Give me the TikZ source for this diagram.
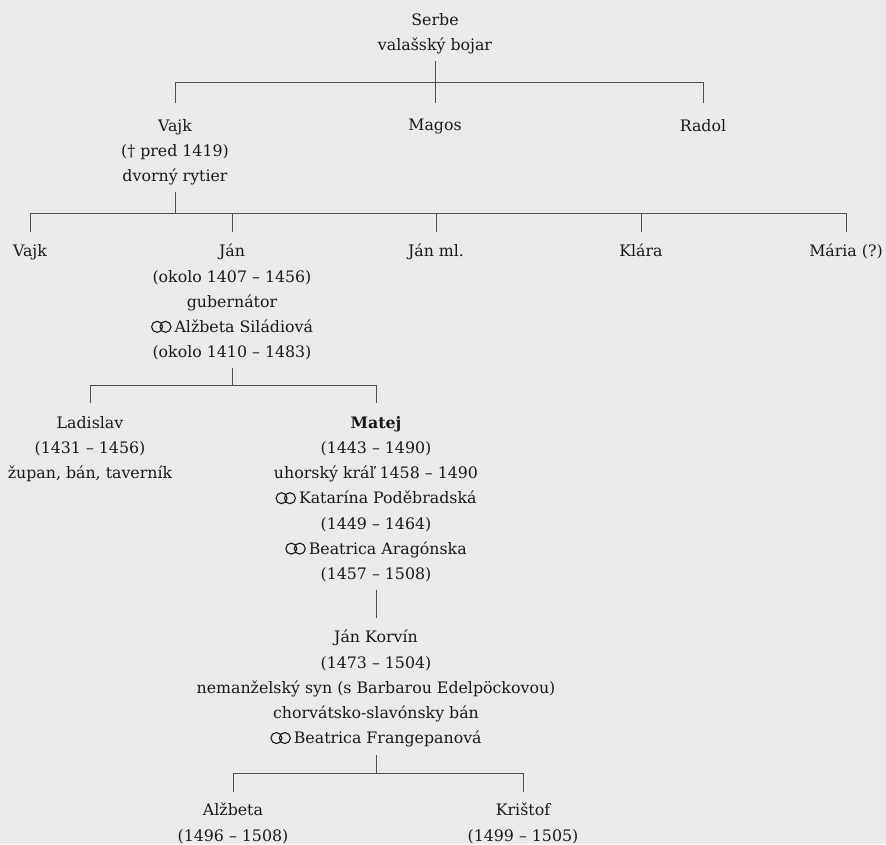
\documentclass[tikz,border=0pt]{standalone}
\usepackage{fontspec}
\setmainfont{DejaVu Serif}
\definecolor{bg}{RGB}{234,234,234}
\definecolor{ink}{RGB}{25,25,25}
\definecolor{ln}{RGB}{80,80,80}
\newcommand\mrg{\tikz[baseline=0pt]{\draw[ink,line width=1.1pt] (5.8pt,5.6pt) circle[radius=5.5pt] (14.2pt,5.6pt) circle[radius=5.5pt];}\hspace{3pt}}
\begin{document}
\begin{tikzpicture}[x=1pt,y=-1pt,
  person/.style={anchor=north,align=center,inner sep=0pt,text=ink,font=\fontsize{15.8}{25.2}\selectfont},
  conn/.style={draw=ln,line width=1pt}]
\fill[bg] (0,0) rectangle (886,844);
\useasboundingbox (0,0) rectangle (886,844);
% bus levels
\coordinate (b1) at (0,82);
\coordinate (b2) at (0,213);
\coordinate (b3) at (0,385);
\coordinate (b4) at (0,773);
% persons
\node[person] (serbe) at (435,13) {Serbe\\valašský bojar};
\node[person] (vajk1) at (175,119) {Vajk\\(\textdagger\ pred 1419)\\dvorný rytier};
\node[person] (magos) at (435,119) {Magos};
\node[person] (radol) at (703,119) {Radol};
\node[person] (vajk2) at (30,244) {Vajk};
\node[person] (jan) at (232,244) {Ján\\(okolo 1407 \textendash\ 1456)\\gubernátor\\\mrg Alžbeta Siládiová\\(okolo 1410 \textendash\ 1483)};
\node[person] (janml) at (436,244) {Ján ml.};
\node[person] (klara) at (641,244) {Klára};
\node[person] (maria) at (846,244) {Mária (?)};
\node[person] (ladislav) at (90,416) {Ladislav\\(1431 \textendash\ 1456)\\župan, bán, taverník};
\node[person] (matej) at (376,416) {\textbf{Matej}\\(1443 \textendash\ 1490)\\uhorský kráľ 1458 \textendash\ 1490\\\mrg Katarína Poděbradská\\(1449 \textendash\ 1464)\\\mrg Beatrica Aragónska\\(1457 \textendash\ 1508)};
\node[person] (korvin) at (376,630) {Ján Korvín\\(1473 \textendash\ 1504)\\nemanželský syn (s Barbarou Edelpöckovou)\\chorvátsko-slavónsky bán\\\mrg Beatrica Frangepanová};
\node[person] (alzbeta) at (233,803) {Alžbeta\\(1496 \textendash\ 1508)};
\node[person] (kristof) at (523,803) {Krištof\\(1499 \textendash\ 1505)};
% connectors: Serbe
\draw[conn] ([yshift=-6.5pt]serbe.south) -- (serbe.south |- b1);
\draw[conn] ([yshift=16pt]vajk1.north) -- (vajk1.north |- b1) -- (radol.north |- b1) -- ([yshift=16pt]radol.north);
\draw[conn] (magos.north |- b1) -- ([yshift=16pt]magos.north);
% Vajk
\draw[conn] ([yshift=-6.5pt]vajk1.south) -- (vajk1.south |- b2);
\draw[conn] ([yshift=12pt]vajk2.north) -- (vajk2.north |- b2) -- (maria.north |- b2) -- ([yshift=12pt]maria.north);
\draw[conn] (jan.north |- b2) -- ([yshift=12pt]jan.north);
\draw[conn] (janml.north |- b2) -- ([yshift=12pt]janml.north);
\draw[conn] (klara.north |- b2) -- ([yshift=12pt]klara.north);
% Ján
\draw[conn] ([yshift=-7.5pt]jan.south) -- (jan.south |- b3);
\draw[conn] ([yshift=13pt]ladislav.north) -- (ladislav.north |- b3) -- (matej.north |- b3) -- ([yshift=13pt]matej.north);
% Matej
\draw[conn] ([yshift=-7.5pt]matej.south) -- ([yshift=12pt]korvin.north);
% Korvín
\draw[conn] ([yshift=-7.5pt]korvin.south) -- (korvin.south |- b4);
\draw[conn] ([yshift=11pt]alzbeta.north) -- (alzbeta.north |- b4) -- (kristof.north |- b4) -- ([yshift=11pt]kristof.north);
\end{tikzpicture}
\end{document}
